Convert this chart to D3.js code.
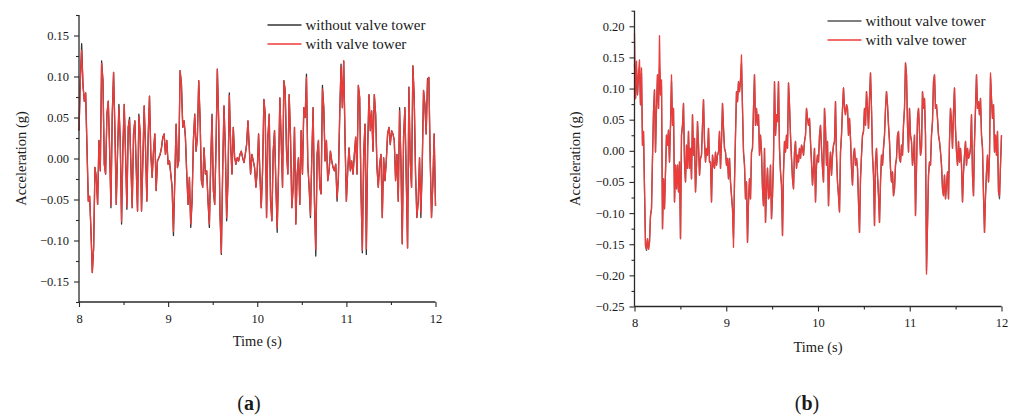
<!DOCTYPE html>
<html>
<head>
<meta charset="utf-8">
<script src="https://cdn.jsdelivr.net/npm/d3@7"></script>
<style>
  html, body { margin: 0; padding: 0; background: #fff; }
  svg { display: block; }
  text { font-family: "Liberation Serif", "Times New Roman", serif; fill: #1a1a1a; }
</style>
</head>
<body>
<svg id="chart" width="1015" height="417"></svg>
<script>
// Record window shared by both panels (s); samples are evenly spaced across it.
const timeStart = 8;
const timeEnd = 12;
const timeTicks = [8, 9, 10, 11, 12];

const seriesNames = ["without valve tower", "with valve tower"];
const panelLabels = ["a", "b"];

// Panel (a): acceleration (g)
const accelA_without = [
  0.034, 0.095, 0.140, 0.089, 0.070, 0.080, 0.013, -0.052, -0.046, -0.088,
  -0.139, -0.109, -0.011, -0.023, -0.056, 0.022, -0.015, 0.119, 0.095, -0.007,
  -0.019, 0.054, 0.070, 0.013, -0.060, 0.054, 0.105, 0.034, -0.056, 0.009,
  0.066, 0.022, -0.080, 0.013, 0.066, 0.005, -0.062, 0.038, 0.050, -0.007,
  -0.060, 0.030, 0.046, -0.011, -0.064, 0.054, 0.030, -0.064, -0.003, 0.064,
  0.013, -0.052, 0.026, 0.076, 0.005, -0.023, 0.009, 0.030, -0.039, -0.003,
  0.001, 0.005, 0.013, 0.026, 0.030, 0.005, 0.022, -0.007, -0.003, -0.019,
  -0.035, -0.094, -0.027, 0.042, -0.011, -0.003, 0.107, 0.091, 0.038, 0.046,
  0.026, -0.019, -0.056, -0.023, -0.084, -0.052, 0.022, 0.054, 0.009, 0.026,
  0.095, 0.050, -0.027, -0.035, 0.013, -0.019, -0.015, -0.052, -0.084, -0.007,
  0.054, -0.039, -0.056, 0.013, 0.109, 0.046, -0.068, -0.117, -0.015, 0.064,
  0.013, -0.076, -0.027, 0.080, 0.017, -0.019, 0.038, 0.001, -0.007, 0.001,
  -0.003, 0.005, 0.009, 0.001, -0.005, 0.005, 0.017, 0.046, 0.013, -0.019,
  0.005, -0.003, -0.011, -0.035, -0.015, 0.030, -0.019, -0.060, -0.015, 0.072,
  0.054, -0.072, 0.026, 0.054, -0.052, -0.076, 0.009, 0.034, -0.031, -0.090,
  -0.015, 0.074, 0.022, -0.035, 0.095, 0.083, 0.009, -0.019, 0.078, 0.026,
  -0.060, -0.035, 0.038, -0.080, -0.019, 0.001, -0.056, 0.034, -0.019, 0.062,
  0.050, 0.103, -0.007, -0.035, -0.072, 0.001, 0.062, -0.052, -0.119, 0.005,
  0.022, -0.035, -0.043, 0.089, 0.062, -0.003, 0.022, -0.027, -0.015, 0.009,
  -0.003, -0.011, -0.015, -0.007, -0.052, -0.023, 0.054, 0.115, 0.062, 0.119,
  0.022, -0.052, -0.015, 0.013, -0.015, -0.003, -0.019, 0.005, 0.026, -0.019,
  0.089, 0.074, -0.039, -0.115, 0.005, 0.042, -0.117, 0.013, 0.078, 0.034,
  0.058, 0.009, 0.078, 0.054, -0.011, -0.035, -0.007, 0.005, -0.072, 0.001,
  -0.027, -0.003, 0.030, 0.038, 0.017, 0.034, 0.030, 0.022, -0.027, 0.005,
  -0.052, 0.062, -0.003, -0.104, 0.026, 0.062, -0.023, -0.109, 0.087, -0.003,
  -0.035, 0.113, 0.074, -0.019, -0.072, -0.052, 0.001, -0.072, -0.011, 0.083,
  0.066, 0.030, 0.097, 0.099, 0.001, -0.072, -0.031, 0.030, -0.058
];
const accelA_with = [
  0.034, 0.095, 0.132, 0.089, 0.070, 0.080, 0.013, -0.052, -0.046, -0.088,
  -0.139, -0.109, -0.011, -0.023, -0.056, 0.022, -0.015, 0.116, 0.095, -0.007,
  -0.019, 0.054, 0.070, 0.013, -0.057, 0.054, 0.105, 0.034, -0.056, 0.009,
  0.062, 0.022, -0.077, 0.013, 0.066, 0.005, -0.059, 0.038, 0.047, -0.007,
  -0.060, 0.030, 0.046, -0.011, -0.064, 0.051, 0.030, -0.064, -0.003, 0.064,
  0.013, -0.052, 0.026, 0.076, 0.005, -0.023, 0.009, 0.030, -0.039, -0.003,
  0.001, 0.005, 0.013, 0.026, 0.030, 0.005, 0.022, -0.007, -0.003, -0.019,
  -0.035, -0.089, -0.027, 0.042, -0.011, -0.003, 0.107, 0.091, 0.038, 0.046,
  0.026, -0.019, -0.056, -0.023, -0.080, -0.052, 0.022, 0.054, 0.009, 0.026,
  0.095, 0.050, -0.027, -0.035, 0.013, -0.019, -0.015, -0.052, -0.080, -0.007,
  0.051, -0.039, -0.056, 0.013, 0.109, 0.046, -0.068, -0.115, -0.015, 0.064,
  0.013, -0.072, -0.027, 0.077, 0.017, -0.019, 0.038, 0.001, -0.007, 0.001,
  -0.003, 0.005, 0.009, 0.001, -0.005, 0.005, 0.017, 0.046, 0.013, -0.019,
  0.005, -0.003, -0.011, -0.035, -0.015, 0.030, -0.019, -0.060, -0.015, 0.072,
  0.054, -0.072, 0.026, 0.054, -0.052, -0.076, 0.009, 0.034, -0.031, -0.085,
  -0.015, 0.074, 0.022, -0.035, 0.095, 0.083, 0.009, -0.019, 0.078, 0.026,
  -0.060, -0.035, 0.038, -0.080, -0.019, 0.001, -0.056, 0.034, -0.019, 0.062,
  0.050, 0.099, -0.007, -0.035, -0.069, 0.001, 0.062, -0.052, -0.111, 0.005,
  0.022, -0.035, -0.043, 0.085, 0.062, -0.003, 0.022, -0.027, -0.015, 0.009,
  -0.003, -0.011, -0.015, -0.007, -0.048, -0.023, 0.054, 0.112, 0.062, 0.119,
  0.022, -0.052, -0.015, 0.013, -0.015, -0.003, -0.019, 0.005, 0.026, -0.019,
  0.089, 0.074, -0.039, -0.112, 0.005, 0.042, -0.110, 0.013, 0.078, 0.034,
  0.058, 0.009, 0.078, 0.054, -0.011, -0.035, -0.007, 0.005, -0.072, 0.001,
  -0.027, -0.003, 0.030, 0.038, 0.017, 0.034, 0.030, 0.022, -0.027, 0.005,
  -0.052, 0.058, -0.003, -0.104, 0.026, 0.062, -0.023, -0.109, 0.087, -0.003,
  -0.035, 0.113, 0.074, -0.019, -0.072, -0.052, 0.001, -0.066, -0.011, 0.083,
  0.066, 0.030, 0.094, 0.099, 0.001, -0.072, -0.031, 0.030, -0.058
];

// Panel (b): acceleration (g)
const accelB_without = [
  0.140, 0.084, 0.130, 0.090, 0.122, 0.135, 0.074, 0.125, 0.009, 0.031,
  -0.061, -0.152, -0.160, -0.141, -0.158, -0.147, -0.104, -0.093, -0.012, 0.063,
  0.098, -0.002, 0.068, 0.122, 0.068, 0.135, 0.090, 0.105, -0.125, -0.045,
  -0.093, -0.034, 0.025, 0.009, 0.033, -0.018, 0.041, 0.112, 0.041, 0.068,
  -0.082, -0.023, -0.061, -0.023, -0.066, -0.018, -0.141, 0.025, 0.041, 0.076,
  -0.018, -0.050, 0.009, -0.028, 0.031, -0.028, 0.004, -0.045, 0.058, -0.007,
  0.020, -0.066, -0.023, 0.047, 0.009, -0.039, -0.012, -0.007, 0.041, 0.082,
  0.015, -0.018, 0.004, -0.007, 0.036, -0.018, -0.018, -0.082, -0.007, -0.023,
  -0.028, -0.002, -0.023, -0.007, -0.002, 0.031, -0.028, 0.015, 0.076, 0.036,
  0.004, -0.002, -0.023, -0.012, -0.045, -0.012, -0.050, -0.072, -0.093, -0.140,
  -0.050, 0.025, 0.095, 0.079, 0.111, 0.095, 0.114, 0.140, 0.068, -0.002,
  -0.023, -0.077, -0.050, -0.147, -0.082, -0.045, -0.077, -0.002, 0.004, 0.068,
  0.122, 0.041, 0.068, 0.041, 0.058, -0.007, 0.025, -0.002, -0.061, -0.088,
  0.004, -0.115, -0.061, -0.028, -0.077, -0.072, -0.023, -0.109, -0.072, -0.012,
  0.111, 0.025, 0.058, 0.047, 0.111, 0.004, -0.034, -0.055, -0.136, -0.034,
  0.015, -0.002, 0.025, 0.004, 0.109, 0.074, 0.025, -0.012, -0.045, -0.061,
  -0.002, 0.015, -0.028, -0.007, -0.018, 0.004, -0.012, 0.009, 0.004, -0.007,
  0.015, 0.025, 0.068, 0.052, 0.041, 0.052, 0.015, -0.018, -0.055, -0.028,
  0.004, -0.082, -0.023, -0.007, -0.018, 0.025, 0.041, 0.004, -0.028, -0.050,
  0.068, 0.036, -0.023, 0.015, -0.088, -0.028, -0.002, -0.039, -0.007, 0.009,
  0.015, 0.079, -0.007, -0.050, -0.072, -0.098, -0.002, 0.025, 0.068, 0.101,
  0.068, 0.058, 0.074, 0.068, 0.025, 0.052, 0.020, -0.028, -0.055, -0.007,
  0.004, -0.023, -0.012, -0.028, -0.082, -0.131, -0.045, -0.007, 0.025, 0.031,
  0.068, 0.041, 0.095, 0.068, 0.036, 0.084, 0.125, 0.068, -0.007, -0.039,
  -0.120, -0.018, 0.004, -0.039, -0.072, -0.115, -0.050, -0.007, -0.023, 0.004,
  0.025, 0.068, 0.095, 0.074, 0.041, 0.015, -0.028, -0.050, -0.034, -0.072,
  -0.061, -0.023, -0.012, 0.025, 0.031, -0.012, -0.018, 0.009, -0.007, 0.041,
  0.068, 0.141, 0.122, 0.041, -0.002, 0.068, 0.025, 0.015, -0.023, -0.007,
  0.025, -0.104, -0.028, 0.052, 0.068, 0.031, -0.007, 0.004, 0.095, 0.068,
  0.084, 0.025, -0.192, -0.120, -0.039, -0.018, -0.023, 0.025, 0.047, 0.111,
  0.122, 0.068, 0.074, 0.052, 0.025, 0.015, -0.002, -0.023, -0.061, -0.072,
  -0.039, -0.077, -0.055, -0.034, -0.077, 0.015, 0.068, 0.047, 0.004, 0.063,
  0.101, 0.036, -0.002, -0.023, 0.015, -0.018, 0.004, -0.023, -0.082, -0.034,
  -0.007, 0.015, -0.023, 0.004, -0.012, -0.007, 0.004, 0.058, -0.039, -0.072,
  0.015, 0.068, 0.122, 0.068, 0.079, 0.058, 0.084, 0.025, 0.004, -0.072,
  -0.131, -0.072, -0.034, -0.007, -0.050, -0.007, 0.118, 0.084, 0.052, 0.074,
  -0.002, 0.025, -0.007, 0.031, -0.066, -0.077, -0.023, 0.025
];
const accelB_with = [
  0.189, 0.084, 0.144, 0.090, 0.122, 0.146, 0.074, 0.133, 0.009, 0.031,
  -0.061, -0.152, -0.158, -0.141, -0.158, -0.147, -0.104, -0.093, -0.012, 0.063,
  0.098, -0.002, 0.068, 0.122, 0.068, 0.185, 0.090, 0.114, -0.125, -0.045,
  -0.093, -0.034, 0.025, 0.009, 0.033, -0.018, 0.041, 0.122, 0.041, 0.068,
  -0.082, -0.023, -0.061, -0.023, -0.066, -0.018, -0.141, 0.025, 0.041, 0.076,
  -0.018, -0.050, 0.009, -0.028, 0.031, -0.028, 0.004, -0.045, 0.058, -0.007,
  0.020, -0.066, -0.023, 0.047, 0.009, -0.039, -0.012, -0.007, 0.041, 0.082,
  0.015, -0.018, 0.004, -0.007, 0.036, -0.018, -0.018, -0.082, -0.007, -0.023,
  -0.028, -0.002, -0.023, -0.007, -0.002, 0.031, -0.028, 0.015, 0.076, 0.036,
  0.004, -0.002, -0.023, -0.012, -0.045, -0.012, -0.050, -0.072, -0.093, -0.155,
  -0.050, 0.025, 0.095, 0.079, 0.111, 0.095, 0.114, 0.154, 0.068, -0.002,
  -0.023, -0.077, -0.050, -0.147, -0.082, -0.045, -0.077, -0.002, 0.004, 0.068,
  0.122, 0.041, 0.068, 0.041, 0.058, -0.007, 0.025, -0.002, -0.061, -0.088,
  0.004, -0.115, -0.061, -0.028, -0.077, -0.072, -0.023, -0.109, -0.072, -0.012,
  0.111, 0.025, 0.058, 0.047, 0.111, 0.004, -0.034, -0.055, -0.136, -0.034,
  0.015, -0.002, 0.025, 0.004, 0.109, 0.074, 0.025, -0.012, -0.045, -0.061,
  -0.002, 0.015, -0.028, -0.007, -0.018, 0.004, -0.012, 0.009, 0.004, -0.007,
  0.015, 0.025, 0.068, 0.052, 0.041, 0.052, 0.015, -0.018, -0.055, -0.028,
  0.004, -0.082, -0.023, -0.007, -0.018, 0.025, 0.041, 0.004, -0.028, -0.050,
  0.068, 0.036, -0.023, 0.015, -0.088, -0.028, -0.002, -0.039, -0.007, 0.009,
  0.015, 0.079, -0.007, -0.050, -0.072, -0.098, -0.002, 0.025, 0.068, 0.101,
  0.068, 0.058, 0.074, 0.068, 0.025, 0.052, 0.020, -0.028, -0.055, -0.007,
  0.004, -0.023, -0.012, -0.028, -0.082, -0.131, -0.045, -0.007, 0.025, 0.031,
  0.068, 0.041, 0.095, 0.068, 0.036, 0.084, 0.125, 0.068, -0.007, -0.039,
  -0.120, -0.018, 0.004, -0.039, -0.072, -0.115, -0.050, -0.007, -0.023, 0.004,
  0.025, 0.068, 0.095, 0.074, 0.041, 0.015, -0.028, -0.050, -0.034, -0.072,
  -0.061, -0.023, -0.012, 0.025, 0.031, -0.012, -0.018, 0.009, -0.007, 0.041,
  0.068, 0.141, 0.122, 0.041, -0.002, 0.068, 0.025, 0.015, -0.023, -0.007,
  0.025, -0.104, -0.028, 0.052, 0.068, 0.031, -0.007, 0.004, 0.095, 0.068,
  0.084, 0.025, -0.198, -0.120, -0.039, -0.018, -0.023, 0.025, 0.047, 0.111,
  0.122, 0.068, 0.074, 0.052, 0.025, 0.015, -0.002, -0.023, -0.061, -0.072,
  -0.039, -0.077, -0.055, -0.034, -0.077, 0.015, 0.068, 0.047, 0.004, 0.063,
  0.101, 0.036, -0.002, -0.023, 0.015, -0.018, 0.004, -0.023, -0.082, -0.034,
  -0.007, 0.015, -0.023, 0.004, -0.012, -0.007, 0.004, 0.058, -0.039, -0.072,
  0.015, 0.068, 0.122, 0.068, 0.079, 0.058, 0.084, 0.025, 0.004, -0.072,
  -0.131, -0.072, -0.034, -0.007, -0.050, -0.007, 0.125, 0.084, 0.052, 0.074,
  -0.002, 0.025, -0.007, 0.031, -0.066, -0.072, -0.023, 0.025
];

// Y-axis tick values per panel
const yTicksA = [-0.15, -0.10, -0.05, 0.00, 0.05, 0.10, 0.15];
const yTicksB = [-0.25, -0.20, -0.15, -0.10, -0.05, 0.00, 0.05, 0.10, 0.15, 0.20];

const svg = d3.select("#chart");
svg.append("rect").attr("width", 1015).attr("height", 417).attr("fill", "#fff");

const fmtY = d3.format(".2f");

function drawPanel(opt) {
  const g = svg.append("g");
  const x = d3.scaleLinear().domain([timeStart, timeEnd]).range([opt.left, opt.right]);
  const y = d3.scaleLinear().domain(opt.yDomain).range([opt.bottom, opt.top]);

  // Series
  const lineFor = (vals) => {
    const idx = d3.scaleLinear().domain([0, vals.length - 1]).range([timeStart, timeEnd]);
    return d3.line()
      .x((d, i) => x(idx(i)))
      .y(d => y(d))(vals);
  };
  g.append("path").attr("d", lineFor(opt.without))
    .attr("fill", "none").attr("stroke", opt.grey).attr("stroke-width", 1.3)
    .attr("stroke-linejoin", "round");
  g.append("path").attr("d", lineFor(opt.withV))
    .attr("fill", "none").attr("stroke", "#ef3a3a").attr("stroke-width", 1.3)
    .attr("stroke-linejoin", "round");

  // Minor ticks
  const yMinor = d3.range(Math.round(opt.yDomain[0] / 0.025), Math.round(opt.yDomain[1] / 0.025) + 1)
    .map(k => k * 0.025)
    .filter(v => !opt.yTicks.some(t => Math.abs(t - v) < 1e-9));
  const xMinor = [8.5, 9.5, 10.5, 11.5];

  // Y axis
  const yAxis = d3.axisLeft(y).tickValues(opt.yTicks).tickSize(5).tickPadding(5)
    .tickFormat(d => fmtY(d));
  const ya = g.append("g").attr("transform", `translate(${opt.left},0)`).call(yAxis);
  ya.select(".domain").attr("d", `M0,${opt.bottom}V${opt.top}`);
  ya.selectAll(".tick").append("line").remove();
  g.append("g").attr("transform", `translate(${opt.left},0)`)
    .call(d3.axisLeft(y).tickValues(yMinor).tickSize(3).tickFormat(""))
    .select(".domain").remove();

  // X axis
  const xAxis = d3.axisBottom(x).tickValues(timeTicks).tickSize(5).tickPadding(7)
    .tickFormat(d3.format("d"));
  const xa = g.append("g").attr("transform", `translate(0,${opt.bottom})`).call(xAxis);
  xa.select(".domain").attr("d", `M${opt.left},0H${opt.right}`);
  g.append("g").attr("transform", `translate(0,${opt.bottom})`)
    .call(d3.axisBottom(x).tickValues(xMinor).tickSize(3).tickFormat(""))
    .select(".domain").remove();

  g.selectAll(".domain").attr("stroke", "#2a2a2a").attr("stroke-width", 1.3);
  g.selectAll(".tick line").attr("stroke", "#2a2a2a").attr("stroke-width", 1.1);
  g.selectAll(".tick text").attr("font-family", "Liberation Serif, Times New Roman, serif")
    .attr("font-size", 12.5).attr("fill", "#1a1a1a");

  // Axis titles
  g.append("text")
    .attr("x", (opt.left + opt.right) / 2).attr("y", opt.bottom + opt.xTitleGap)
    .attr("text-anchor", "middle").attr("font-size", 14.5).text("Time (s)");
  g.append("text")
    .attr("transform", `translate(${opt.yTitleX},${(opt.top + opt.bottom) / 2}) rotate(-90)`)
    .attr("text-anchor", "middle").attr("font-size", 14.5).text("Acceleration (g)");

  // Legend
  const colors = [opt.grey, "#ef3a3a"];
  seriesNames.forEach((name, i) => {
    const ly = opt.legendY + i * 19;
    g.append("line").attr("x1", opt.legendX).attr("x2", opt.legendX + 34)
      .attr("y1", ly).attr("y2", ly).attr("stroke", colors[i]).attr("stroke-width", 1.3);
    g.append("text").attr("x", opt.legendX + 38).attr("y", ly + 5)
      .attr("font-size", 15).text(name);
  });

  // Panel caption
  const cap = g.append("text").attr("x", opt.captionX).attr("y", 410)
    .attr("text-anchor", "middle").attr("font-size", 20);
  cap.append("tspan").text("(");
  cap.append("tspan").attr("font-weight", "bold").text(opt.label);
  cap.append("tspan").text(")");
}

drawPanel({
  left: 79, right: 435.5, top: 15, bottom: 302,
  yDomain: [-0.175, 0.175], yTicks: yTicksA,
  without: accelA_without, withV: accelA_with, grey: "#333333",
  xTitleGap: 44, yTitleX: 26,
  legendX: 267.5, legendY: 25,
  captionX: 249, label: panelLabels[0]
});

drawPanel({
  left: 634.5, right: 1001.5, top: 10.7, bottom: 306.5,
  yDomain: [-0.25, 0.225], yTicks: yTicksB,
  without: accelB_without, withV: accelB_with, grey: "#555555",
  xTitleGap: 45, yTitleX: 580,
  legendX: 827.5, legendY: 21,
  captionX: 807, label: panelLabels[1]
});
</script>
</body>
</html>
